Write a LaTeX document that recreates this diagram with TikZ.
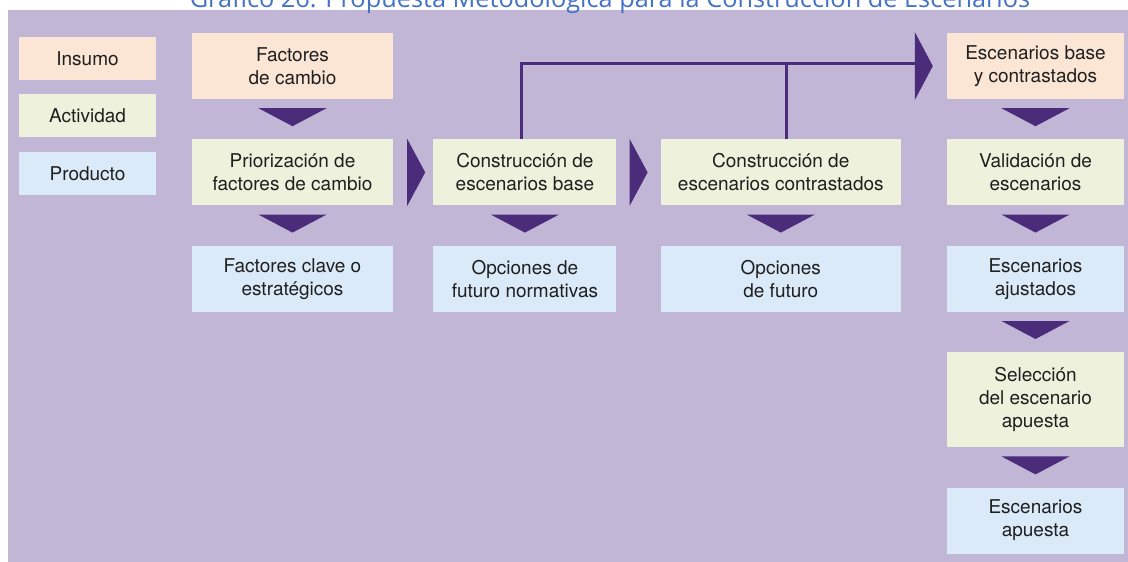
\documentclass[tikz,border=0pt]{standalone}
\usepackage{fontspec}
\newfontfamily\heros{TeX Gyre Heros}
\newfontfamily\opensans{Open Sans}
\usetikzlibrary{calc,positioning}
\definecolor{bgpurple}{HTML}{C1B6D6}
\definecolor{insfill}{HTML}{FBE5D4}
\definecolor{actfill}{HTML}{EEF1DC}
\definecolor{prodfill}{HTML}{DAEAF8}
\definecolor{flowpurple}{HTML}{4B2C7A}
\definecolor{titleblue}{HTML}{4472C4}
\newcommand{\blkfont}{\heros\fontsize{19}{23}\selectfont}
\tikzset{blk/.style={minimum height=66pt, inner sep=0pt, align=center, font=\blkfont, text=black!88},
  insumo/.style={blk, fill=insfill},
  actividad/.style={blk, fill=actfill},
  producto/.style={blk, fill=prodfill},
  legbox/.style={minimum width=137pt, minimum height=43pt, inner sep=0pt, font=\blkfont, text=black!88},
  link/.style={draw=flowpurple, line width=3pt},
  tri/.style={fill=flowpurple}}

\begin{document}
\begin{tikzpicture}[x=1pt, y=-1pt, node distance=40pt]
  \useasboundingbox (0,0) rectangle (1128,562);
  \clip (0,0) rectangle (1128,562);
  \fill[white] (0,0) rectangle (1128,562);
  \fill[bgpurple] (8,10) rectangle (1128,562);
  \node[font=\opensans\fontsize{25.3}{30}\selectfont, text=titleblue, anchor=base] (title) at (610,7)
    {Gráfico 26. Propuesta Metodológica para la Construcción de Escenarios};
  % legend
  \node[legbox, fill=insfill] (lins) at (87.5,58.5) {Insumo};
  \node[legbox, fill=actfill, below=14pt of lins] (lact) {Actividad};
  \node[legbox, fill=prodfill, below=14pt of lact] (lprod) {Producto};
  % main columns
  \node[insumo, minimum width=201pt] (fac) at (292.5,66) {Factores\\de cambio};
  \node[actividad, minimum width=201pt, below=of fac] (pri) {Priorización de\\factores de cambio};
  \node[producto, minimum width=201pt, below=of pri] (fcl) {Factores clave o\\estratégicos};
  \node[actividad, minimum width=183pt, right=of pri] (cb) {Construcción de\\escenarios base};
  \node[producto, minimum width=183pt, below=of cb] (fno) {Opciones de\\futuro normativas};
  \node[actividad, minimum width=240pt, right=44pt of cb] (cc) {Construcción de\\escenarios contrastados};
  \node[producto, minimum width=240pt, below=of cc] (ofu) {Opciones\\de futuro};
  \node[insumo, minimum width=177pt] (esc) at (1035.5,66) {Escenarios base\\y contrastados};
  \node[actividad, minimum width=177pt, below=of esc] (val) {Validación de\\escenarios};
  \node[producto, minimum width=177pt, below=of val] (aju) {Escenarios\\ajustados};
  \node[actividad, minimum width=177pt, minimum height=95pt, below=of aju] (sel) {Selección\\del escenario\\apuesta};
  \node[producto, minimum width=177pt, below=of sel] (apu) {Escenarios\\apuesta};
  % flow marks
  \foreach \a/\b in {fac/pri, pri/fcl, cb/fno, cc/ofu, esc/val, val/aju, aju/sel, sel/apu}{
    \fill[tri] ($(\a.south)!0.5!(\b.north)+(-34,-11)$) -- ++(68,0) -- ++(-34,18) -- cycle;}
  \foreach \a/\b/\s in {pri/cb/3, cb/cc/0}{
    \fill[tri] ($(\a.east)!0.5!(\b.west)+(-9+\s,-33.5)$) -- ++(0,67) -- ++(18,-33.5) -- cycle;}
  \coordinate (hub) at ($(esc.west)+(-32,-2.5)$);
  \fill[tri] ($(esc.west)+(-32,-34)$) -- ++(0,68) -- ++(18,-34) -- cycle;
  \draw[link] ([xshift=-3pt]cb.north) |- (hub);
  \draw[link] ([xshift=6pt]cc.north) -- ([xshift=6pt]cc.north |- hub);
\end{tikzpicture}
\end{document}
